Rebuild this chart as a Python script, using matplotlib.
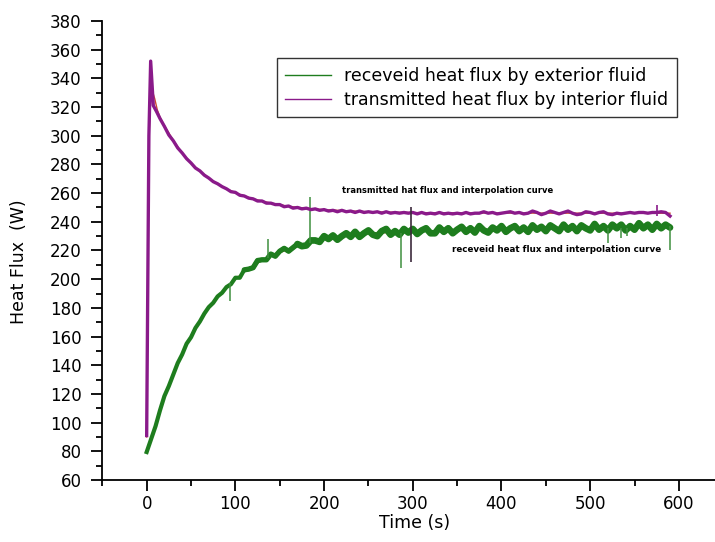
import numpy as np
import matplotlib.pyplot as plt
from matplotlib.ticker import MultipleLocator

# ---- data ----
# received heat flux (exterior fluid), sampled every 5 s
t_rec = np.arange(0, 595, 5)
q_rec = [79.5, 88.5, 97.5, 108.5, 118.5, 125.5, 133.5, 141.5, 147.5, 155,
         159.5, 166, 170.5, 176, 180.5, 183.5, 188, 190.5, 194.5, 196.5,
         201, 201, 206.5, 207, 208, 213, 213.5, 213.5, 217.5, 216,
         219.5, 221.5, 219.5, 222, 224.5, 223, 223.5, 227, 227, 226,
         230, 228, 230.5, 227.5, 230, 232, 229.5, 233, 229.5, 232,
         234, 231, 230, 233.5, 235, 231, 233.5, 231, 235, 232.5,
         235, 231.5, 234, 235.5, 232, 232, 236, 233, 235.5, 232,
         234.5, 236.5, 233, 235.5, 232.5, 237, 234, 232.5, 236, 234,
         237, 233, 235.5, 237, 233.5, 236, 233, 237.5, 234.5, 236.5,
         233.5, 237.5, 235.5, 233.5, 238, 234.5, 237, 233.5, 237.5, 235.5,
         234, 238.5, 234.5, 237, 234, 238, 235.5, 238, 234, 237,
         234.5, 239, 235.5, 238, 234.5, 238.5, 235.5, 238, 236]

# transmitted heat flux (interior fluid)
t_tr = [0, 2.5, 4.5, 7.5, 11, 15] + list(range(20, 595, 5))
q_tr = [91, 300, 352, 321, 317, 312,
        306.5, 300.5, 296.5, 291.5, 288, 284, 281, 277.5, 275.5, 272.5,
        270.5, 268, 266.5, 264.5, 263, 261, 260.5, 258.5, 258, 256.5,
        256, 254.5, 254.5, 253, 253, 252, 252, 250.5, 251, 249.5,
        250, 249, 249.5, 248.5, 249, 248, 248.5, 247.5, 248, 247,
        248, 247, 247.5, 246.5, 247.5, 246.5, 247, 246.5, 247, 246,
        247, 246, 246.5, 246, 246.5, 246, 246.5, 245.5, 246.5, 245.5,
        246, 245.5, 246.5, 245.5, 246, 245.5, 246, 245.5, 246.5, 245.5,
        246, 246, 247, 246, 246.5, 245.5, 246, 246.5, 247, 246,
        246.5, 245.5, 246, 247.5, 246.5, 245, 246, 247.5, 246.5, 245.5,
        246.5, 247.5, 246, 245, 245.5, 247, 246.5, 245.5, 246.5, 247,
        245.5, 245, 246, 245.5, 246, 246.5, 246, 246.5, 246.5, 246,
        246.5, 246.5, 247, 246.5, 244]

# interpolation curves
t_fit_tr = [0, 2, 3, 4.5, 6.5, 9, 12, 15, 20, 30, 40, 50, 60, 70, 80, 90, 100,
            120, 140, 160, 180, 200, 250, 300, 400, 500, 590]
q_fit_tr = [90, 250, 305, 325, 331, 326, 318, 313, 307, 296.8, 288, 281, 275.3,
            270.5, 266.4, 263, 260.2, 256, 253, 250.8, 249.4, 248.4, 247, 246.4,
            246.1, 246, 246]
t_fit_rec = [0, 10, 20, 30, 40, 50, 60, 70, 80, 90, 100, 110, 120, 130, 140,
             150, 160, 170, 180, 190, 200, 220, 240, 260, 300, 350, 400, 450,
             500, 550, 590]
q_fit_rec = [80, 98, 118, 134, 148, 160, 171, 180, 187.5, 194, 200, 205, 209.5,
             213, 216, 218.5, 221, 223, 225, 226.5, 228, 230, 231.3, 232.2,
             233.3, 234.2, 234.8, 235.3, 235.8, 236.2, 236.5]

# isolated spikes in the measured signals
spk_rec_t = [94, 137, 184, 287, 520, 535, 541, 590]
spk_rec_lo = [184.5, 215, 225, 208, 225, 229, 230, 220.5]
spk_rec_hi = [197, 228, 257.5, 232, 236, 236, 236, 237]
spk_tr_t = [298, 575]
spk_tr_lo = [212, 244]
spk_tr_hi = [250, 252]

labels = ['receveid heat flux by exterior fluid',
          'transmitted heat flux by interior fluid']

green = '#1e7d1e'
purple = '#8a1a8a'
red = '#cc4a30'

fig = plt.figure(figsize=(7.15, 5.42), dpi=100)
ax = fig.add_axes([0.1431, 0.1144, 0.8569, 0.8469])

ax.plot(t_fit_rec, q_fit_rec, color=red, lw=1.0, zorder=1)
ax.plot(t_rec, q_rec, color=green, lw=3.0, zorder=2, label=labels[0])
# noisy band gets wider once the signal levels off
q_arr = np.array(q_rec)
for t0, w in [(110, 3.8), (170, 4.8)]:
    sel = t_rec >= t0
    ax.plot(t_rec[sel], q_arr[sel], color=green, lw=w, zorder=2,
            solid_capstyle='round')
ax.vlines(spk_rec_t, spk_rec_lo, spk_rec_hi, color='#3f8f3f', lw=1.1, zorder=2)

ax.plot(t_fit_tr, q_fit_tr, color=red, lw=1.0, zorder=2.5)
ax.plot(t_tr, q_tr, color=purple, lw=2.4, zorder=3, label=labels[1])
ax.vlines(spk_tr_t, spk_tr_lo, spk_tr_hi, color=['#3c2a3c', purple], lw=1.2, zorder=4)

ax.text(220, 261.5, 'transmitted hat flux and interpolation curve',
        fontsize=6, fontweight='bold', va='center', ha='left')
ax.text(344, 220.4, 'receveid heat flux and interpolation curve',
        fontsize=6.3, fontweight='bold', va='center', ha='left')

ax.set_xlim(-50, 640.7)
ax.set_ylim(60, 380)
ax.xaxis.set_major_locator(MultipleLocator(100))
ax.xaxis.set_minor_locator(MultipleLocator(50))
ax.yaxis.set_major_locator(MultipleLocator(20))
ax.yaxis.set_minor_locator(MultipleLocator(10))
ax.tick_params(which='major', length=8, width=1.3, labelsize=12, direction='out')
ax.tick_params(axis='y', which='major', pad=7)
ax.tick_params(axis='x', which='major', pad=3)
ax.tick_params(which='minor', length=4, width=1.3, direction='out')
for s in ['top', 'right']:
    ax.spines[s].set_visible(False)
for s in ['left', 'bottom']:
    ax.spines[s].set_linewidth(1.3)

ax.set_xlabel('Time (s)', fontsize=12.5)
ax.set_ylabel('Heat Flux  (W)', fontsize=12.5)
ax.xaxis.set_label_coords(0.509, -0.075)
ax.yaxis.set_label_coords(-0.121, 0.475)

leg = ax.legend(loc='upper left', bbox_to_anchor=(0.387, 0.893),
                bbox_transform=fig.transFigure, fontsize=12.5, fancybox=False,
                framealpha=1, edgecolor='#333333', handlelength=2.6,
                borderpad=0.5, labelspacing=0.35, borderaxespad=0)
for line in leg.get_lines():
    line.set_linewidth(1.0)
leg.get_frame().set_linewidth(1.0)

fig.savefig('out.png', dpi=100)
